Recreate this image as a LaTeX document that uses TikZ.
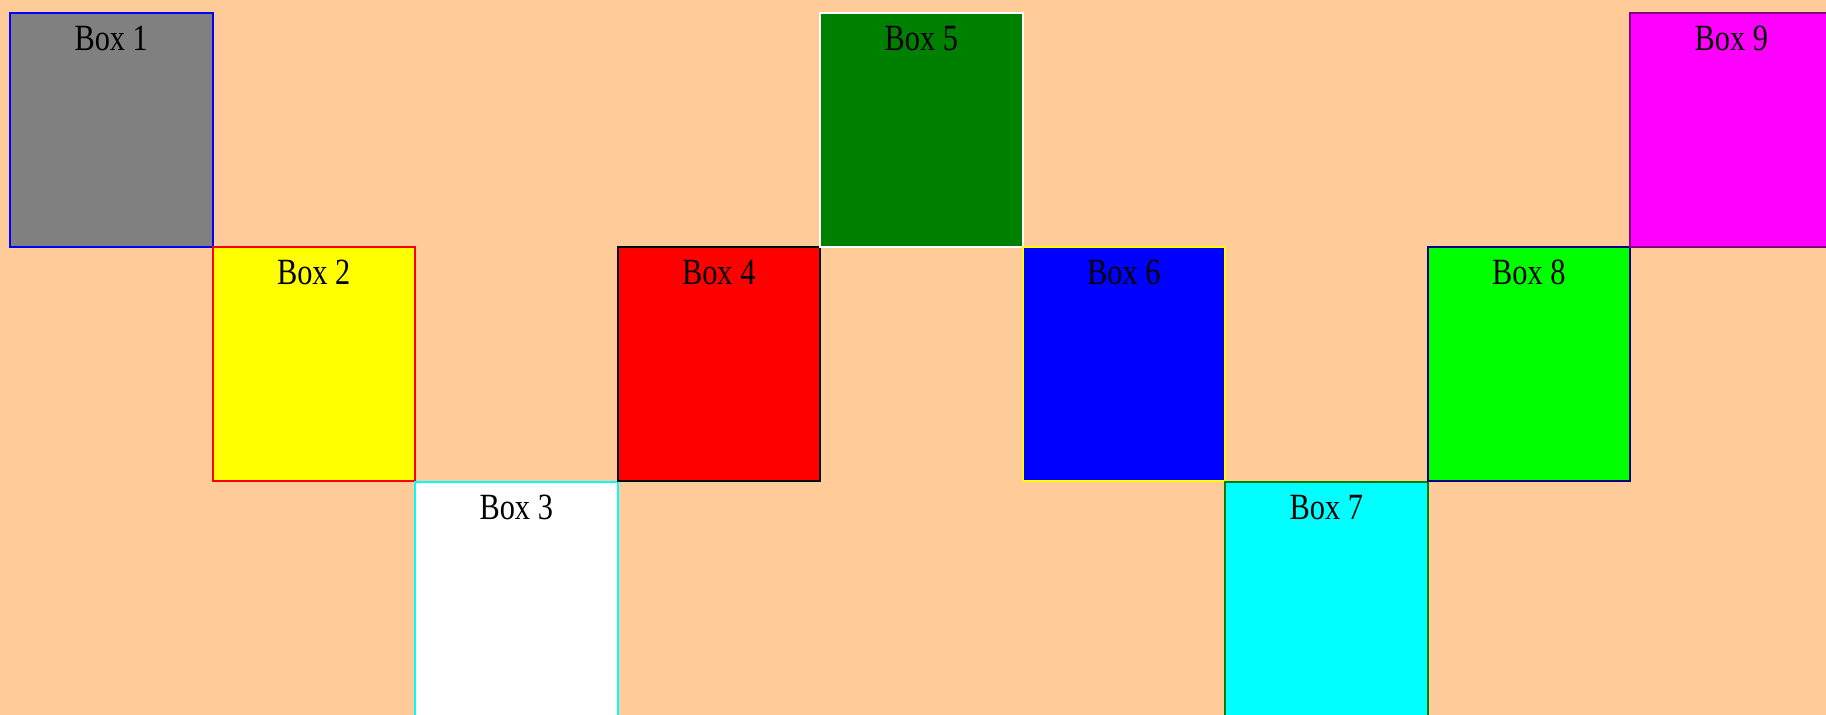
\documentclass[tikz,border=0pt]{standalone}
\usepackage{fontspec}
\setmainfont{Liberation Serif}
\usepackage{graphicx}

\definecolor{peach}{HTML}{FFCC99}
\definecolor{boxgray}{HTML}{808080}
\definecolor{boxyellow}{HTML}{FFFF00}
\definecolor{boxred}{HTML}{FF0000}
\definecolor{boxcyan}{HTML}{00FFFF}
\definecolor{boxblue}{HTML}{0000FF}
\definecolor{boxlime}{HTML}{00FF00}
\definecolor{boxmagenta}{HTML}{FF00FF}
\definecolor{webgreen}{HTML}{008000}
\definecolor{navyblue}{HTML}{000080}
\definecolor{webpurple}{HTML}{800080}

\tikzset{
  box/.style={draw, line width=1pt, minimum width=101.25pt, minimum height=117.25pt,
    inner sep=0pt, anchor=north west},
  boxlabel/.style={anchor=base, inner sep=0pt, font=\fontsize{18.5}{20}\selectfont},
}
\newcommand{\boxtext}[1]{\scalebox{0.82}[1]{#1}}

\begin{document}
\begin{tikzpicture}[x=0.5pt, y=-0.5pt]
    \useasboundingbox (0,0) rectangle (1826,715);
    \clip (0,0) rectangle (1826,715);
    \fill[peach] (0,0) rectangle (1826,715);

    \node[box, fill=boxgray, draw=boxblue] (box1) at (9,12) {};
    \node[box, fill=boxyellow, draw=boxred] (box2) at (211.5,246) {};
    \node[box, fill=white, draw=boxcyan] (box3) at (414,481) {};
    \node[box, fill=boxred, draw=black] (box4) at (616.5,246) {};
    \node[box, fill=webgreen, draw=white] (box5) at (819,12) {};
    \node[box, fill=boxblue, draw=boxyellow] (box6) at (1021.5,246) {};
    \node[box, fill=boxcyan, draw=webgreen] (box7) at (1224,481) {};
    \node[box, fill=boxlime, draw=navyblue] (box8) at (1426.5,246) {};
    \node[box, fill=boxmagenta, draw=webpurple] (box9) at (1629,12) {};

    \node[boxlabel] (lab1) at ([yshift=-19.5pt]box1.north) {\boxtext{Box 1}};
    \node[boxlabel] (lab2) at ([yshift=-19.5pt]box2.north) {\boxtext{Box 2}};
    \node[boxlabel] (lab3) at ([yshift=-19.5pt]box3.north) {\boxtext{Box 3}};
    \node[boxlabel] (lab4) at ([yshift=-19.5pt]box4.north) {\boxtext{Box 4}};
    \node[boxlabel] (lab5) at ([yshift=-19.5pt]box5.north) {\boxtext{Box 5}};
    \node[boxlabel] (lab6) at ([yshift=-19.5pt]box6.north) {\boxtext{Box 6}};
    \node[boxlabel] (lab7) at ([yshift=-19.5pt]box7.north) {\boxtext{Box 7}};
    \node[boxlabel] (lab8) at ([yshift=-19.5pt]box8.north) {\boxtext{Box 8}};
    \node[boxlabel] (lab9) at ([yshift=-19.5pt]box9.north) {\boxtext{Box 9}};
\end{tikzpicture}
\end{document}
